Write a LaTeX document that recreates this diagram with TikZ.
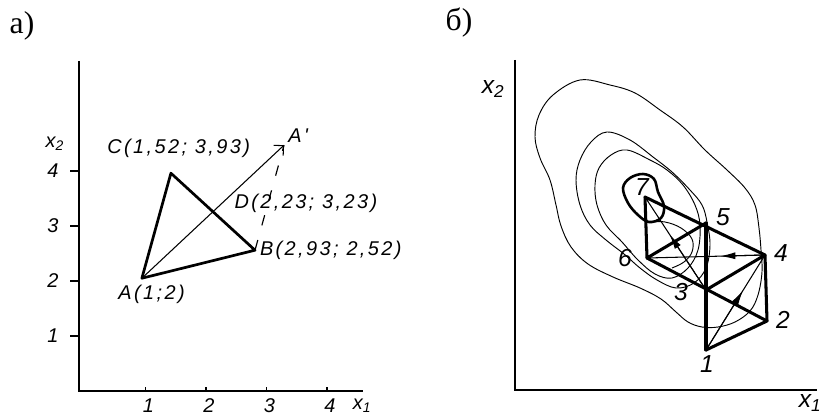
\documentclass[tikz,border=0pt]{standalone}
\usepackage{fontspec}
\setmainfont{Liberation Serif}
\newfontfamily\gostfont[LetterSpace=12]{Liberation Sans}
\usetikzlibrary{arrows.meta,calc}

\tikzset{
  panel/.style={font=\fontsize{27}{30}\selectfont, inner sep=0pt},
  lbla/.style={font=\gostfont\itshape\fontsize{17}{19}\selectfont, inner sep=1pt},
  lblb/.style={font=\gostfont\itshape\fontsize{21}{23}\selectfont, inner sep=1pt},
  axis/.style={line width=1.3pt},
  edge/.style={line width=2.6pt, line join=round, line cap=round},
  thinedge/.style={line width=0.9pt},
  dashline/.style={line width=1pt, dash pattern=on 9pt off 13pt},
  level/.style={line width=0.8pt},
  midtip/.style={line width=0.9pt, -{Latex[length=13pt,width=6pt]}},
}

\begin{document}
\begin{tikzpicture}[x=0.3mm, y=-0.3mm]
\useasboundingbox (0,0) rectangle (823,417);

% panel a
\node[panel] (tagA) at (22,26) {а)};
\begin{scope}[shift={(85,391)}, x=1.815cm, y=1.65cm]
  \draw[axis] (-0.1,6) -- (-0.1,0) -- (4.6,0);
  \foreach \k in {1,...,4} {
    \draw[axis] (-0.24,\k) -- (-0.1,\k);
    \draw[axis] (\k,0) -- (\k,0.08);
    \node[lbla] (ty\k) at (-0.53,\k) {\k};
    \node[lbla] (tx\k) at (\k+0.05,-0.27) {\k};
  }
  \node[lbla] (xa1) at (4.58,-0.26) {x\textsubscript{1}};
  \node[lbla] (xa2) at (-0.5,4.5) {x\textsubscript{2}};

  \coordinate (A) at (0.94,2.05);
  \coordinate (B) at (2.81,2.56);
  \coordinate (C) at (1.42,3.96);
  \coordinate (D) at ($(B)!0.5!(C)$);
  \coordinate (Ar) at ($(A)!2!(D)$);

  \draw[edge, line width=2.3pt] (A) -- (B) -- (C) -- cycle;
  \draw[thinedge, -{Straight Barb[length=6pt]}] (A) -- (Ar);
  \draw[dashline] (B) -- (Ar);

  \node[lbla, anchor=east] (lC) at (2.75,4.42) {C(1,52; 3,93)};
  \node[lbla, anchor=west] (lAr) at (3.34,4.64) {A'};
  \node[lbla, anchor=west] (lD) at (2.45,3.42) {D(2,23; 3,23)};
  \node[lbla, anchor=west] (lB) at (2.87,2.56) {B(2,93; 2,52)};
  \node[lbla, anchor=west] (lA) at (0.53,1.75) {A(1;2)};
\end{scope}

% panel b
\node[panel] (tagB) at (459,23) {б)};
\draw[axis] (515,60) -- (515,390) -- (817,390);
\node[lblb] (xb2) at (493,89) {x\textsubscript{2}};
\node[lblb] (xb1) at (810,403) {x\textsubscript{1}};

% level lines
\draw[level] plot[smooth cycle, tension=0.6] coordinates {(580,80) (610,85) (635,93) (660,110) (683,127) (705,150) (727,170) (745,188) (755,205) (759,228) (761,250) (762,272) (758,295) (750,311) (735,322) (718,327) (702,327) (688,322) (676,312) (661,299) (640,288) (613,277) (588,264) (571,247) (561,226) (556,205) (550,180) (540,158) (535,137) (539,115) (553,95)};
\draw[level] plot[smooth cycle, tension=0.6] coordinates {(607,132) (630,140) (653,157) (672,172) (690,190) (702,205) (707,222) (710,245) (706,268) (694,283) (676,288) (657,280) (640,268) (624,254) (606,240) (590,225) (580,205) (576,180) (580,160) (591,142)};
\draw[level] plot[smooth cycle, tension=0.6] coordinates {(627,150) (650,160) (667,170) (683,185) (695,205) (700,225) (698,250) (688,268) (672,278) (655,274) (638,260) (622,242) (606,225) (597,205) (595,185) (599,168) (611,155)};
\draw[level, line width=2.2pt] plot[smooth cycle, tension=0.6] coordinates {(623,188) (630,178) (643,174) (654,179) (658,192) (664,206) (661,218) (649,222) (638,215) (628,203)};
\draw[level] plot[smooth, tension=0.6] coordinates {(649,222) (665,222) (681,228) (692,239) (692,252) (684,262) (672,268)};

% simplex vertices
\foreach \n/\px/\py in {1/706/350, 2/767/321, 3/706/290, 4/765/255, 5/706/223, 6/647/258, 7/645/197}
  \coordinate (p\n) at (\px,\py);
\foreach \n/\px/\py in {1/707/364, 2/783/320, 3/681/292, 4/781/253, 5/723/217, 6/625/258, 7/642/187}
  \node[lblb] (n\n) at (\px,\py) {\n};

\draw[edge] (p1) -- (p2) -- (p4);
\draw[edge] (p1) -- (p5);
\draw[edge] (p6) -- (p2);
\draw[edge] (p3) -- (p4);
\draw[edge] (p7) -- (p4);
\draw[edge] (p5) -- (p6) -- (p7);

% reflections
\draw[thinedge] (p4) -- (p6);
\draw[midtip] (p4) -- ($(p4)!0.38!(p6)$);
\draw[thinedge] (p1) -- (p4);
\draw[midtip] (p1) -- ($(p1)!0.63!(p4)$);
\draw[thinedge] (p3) -- (p7);
\draw[midtip] (p3) -- ($(p3)!0.6!(p7)$);
\end{tikzpicture}
\end{document}
